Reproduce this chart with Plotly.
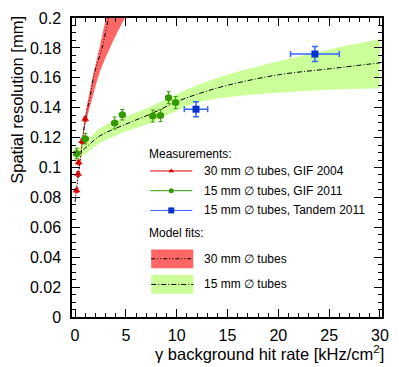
import plotly.graph_objects as go

# ---------------- data ----------------
# Measurements
red_x = [0.15, 0.3, 0.35, 0.7, 1.0]
red_y = [0.0846, 0.0956, 0.1033, 0.1176, 0.1324]
red_ex = [0.05, 0.05, 0.05, 0.05, 0.05]
red_ey = [0.0015, 0.0015, 0.0015, 0.0015, 0.0015]

green_x = [0.15, 1.0, 3.9, 4.65, 7.65, 8.4, 9.2, 9.9]
green_y = [0.1094, 0.1193, 0.1298, 0.1353, 0.1344, 0.1347, 0.1467, 0.1434]
green_ex = [0.3, 0.3, 0.3, 0.3, 0.3, 0.3, 0.3, 0.3]
green_ey = [0.0035, 0.0035, 0.004, 0.0035, 0.004, 0.004, 0.004, 0.004]

blue_x = [11.9, 23.6]
blue_y = [0.139, 0.1759]
blue_ex = [1.15, 2.4]
blue_ey = [0.005, 0.005]

# Model fit, 30 mm tubes
fit30_x = [0.0, 0.15, 0.35, 0.7, 1.0, 1.5, 1.9, 2.66, 3.3, 3.7]
fit30_y = [0.077, 0.085, 0.096, 0.115, 0.132, 0.148, 0.163, 0.180, 0.200, 0.210]
band30_up_x = [0.0, 0.5, 1.0, 1.45, 1.85, 2.45, 3.05, 3.5]
band30_up_y = [0.079, 0.108, 0.135, 0.151, 0.164, 0.1815, 0.200, 0.212]
band30_lo_x = [0.0, 0.5, 1.0, 1.77, 2.4, 3.5, 4.9, 5.5]
band30_lo_y = [0.076, 0.104, 0.128, 0.148, 0.163, 0.181, 0.200, 0.207]

# Model fit, 15 mm tubes
fit15_x = [0, 1, 2.4, 5, 7.5, 10, 12, 15, 20, 25, 30]
fit15_y = [0.108, 0.113, 0.121, 0.129, 0.136, 0.144, 0.149, 0.155, 0.162, 0.166, 0.170]
band15_x = [0, 1, 2.4, 5, 7.5, 10, 12, 15, 20, 25, 30]
band15_lo = [0.104, 0.109, 0.116, 0.124, 0.130, 0.138, 0.1435, 0.147, 0.150, 0.152, 0.153]
band15_up = [0.112, 0.117, 0.126, 0.134, 0.141, 0.149, 0.155, 0.162, 0.171, 0.179, 0.186]

x_range = [-0.3, 30.2]
y_range = [0, 0.2]

# ---------------- styling ----------------
FONT = "Liberation Sans, Arial, Helvetica, sans-serif"
RED_FILL = "#ff6666"
GREEN_FILL = "#ccff99"
RED = "#dd0000"
GREEN = "#339900"
BLUE = "#0033cc"
BLUE_ERR = "#3366ff"
DASH_DOTDOT = "4px,2px,1px,2px,1px,2px"
DASH_DOT = "5px,2px,1px,2px"

fig = go.Figure()

# bands
fig.add_trace(go.Scatter(x=band15_x, y=band15_lo, mode="lines", line=dict(width=0, shape="spline"),
                         hoverinfo="skip", showlegend=False))
fig.add_trace(go.Scatter(x=band15_x, y=band15_up, mode="lines", line=dict(width=0, shape="spline"),
                         fill="tonexty", fillcolor=GREEN_FILL, hoverinfo="skip", showlegend=False))
fig.add_trace(go.Scatter(x=band30_lo_x, y=band30_lo_y, mode="lines", line=dict(width=0, shape="spline"),
                         hoverinfo="skip", showlegend=False))
fig.add_trace(go.Scatter(x=band30_up_x, y=band30_up_y, mode="lines", line=dict(width=0, shape="spline"),
                         fill="tonexty", fillcolor=RED_FILL, hoverinfo="skip", showlegend=False))

# fit lines
fig.add_trace(go.Scatter(x=fit30_x, y=fit30_y, mode="lines",
                         line=dict(color="black", width=1, dash=DASH_DOTDOT, shape="spline"),
                         showlegend=False))
fig.add_trace(go.Scatter(x=fit15_x, y=fit15_y, mode="lines",
                         line=dict(color="black", width=1, dash=DASH_DOT, shape="spline"),
                         showlegend=False))

# measurements
fig.add_trace(go.Scatter(x=red_x, y=red_y, mode="markers",
                         marker=dict(symbol="triangle-up", size=7, color=RED),
                         error_x=dict(type="data", array=red_ex, color=RED, thickness=1, width=1),
                         error_y=dict(type="data", array=red_ey, color=RED, thickness=1, width=2),
                         showlegend=False))
fig.add_trace(go.Scatter(x=green_x, y=green_y, mode="markers",
                         marker=dict(symbol="circle", size=7, color=GREEN),
                         error_x=dict(type="data", array=green_ex, color=GREEN, thickness=1, width=2),
                         error_y=dict(type="data", array=green_ey, color=GREEN, thickness=1, width=2),
                         showlegend=False))
fig.add_trace(go.Scatter(x=blue_x, y=blue_y, mode="markers",
                         marker=dict(symbol="square", size=7, color=BLUE),
                         error_x=dict(type="data", array=blue_ex, color=BLUE_ERR, thickness=1.5, width=3),
                         error_y=dict(type="data", array=blue_ey, color=BLUE_ERR, thickness=1.5, width=3),
                         showlegend=False))

# ---------------- legend (drawn on a pixel overlay axis) ----------------
L, R, T, B = 72, 389, 14, 317
W, H = 399, 367
leg_meas_y = [169, 189, 209]
leg_meas_sym = ["triangle-up", "circle", "square"]
leg_meas_col = [RED, GREEN, BLUE]
leg_meas_linecol = [RED, GREEN, BLUE_ERR]
leg_meas_txt = ["30 mm \u2205 tubes, GIF 2004", "15 mm \u2205 tubes, GIF 2011",
                "15 mm \u2205 tubes, Tandem 2011"]
leg_fit_y = [258, 284]
leg_fit_col = [RED_FILL, GREEN_FILL]
leg_fit_dash = [DASH_DOTDOT, DASH_DOT]
leg_fit_txt = ["30 mm \u2205 tubes", "15 mm \u2205 tubes"]

shapes = []
annotations = []
for yy, sym, col, lcol, txt in zip(leg_meas_y, leg_meas_sym, leg_meas_col, leg_meas_linecol, leg_meas_txt):
    fig.add_trace(go.Scatter(x=[152, 195], y=[yy, yy], xaxis="x2", yaxis="y2", mode="lines",
                             line=dict(color=lcol, width=1), showlegend=False, hoverinfo="skip"))
    fig.add_trace(go.Scatter(x=[173.5], y=[yy], xaxis="x2", yaxis="y2", mode="markers",
                             marker=dict(symbol=sym, size=5 if sym != "square" else 6, color=col),
                             showlegend=False, hoverinfo="skip"))
    annotations.append(dict(x=205, y=yy, xref="x2", yref="y2", text=txt, showarrow=False,
                            xanchor="left", yanchor="middle", font=dict(size=12, color="black")))
for yy, fc, dsh, txt in zip(leg_fit_y, leg_fit_col, leg_fit_dash, leg_fit_txt):
    shapes.append(dict(type="rect", xref="x2", yref="y2", x0=153, x1=196, y0=yy - 9.5, y1=yy + 9.5,
                       fillcolor=fc, line=dict(width=0), layer="below"))
    fig.add_trace(go.Scatter(x=[153, 196], y=[yy, yy], xaxis="x2", yaxis="y2", mode="lines",
                             line=dict(color="black", width=1, dash=dsh), showlegend=False,
                             hoverinfo="skip"))
    annotations.append(dict(x=205, y=yy, xref="x2", yref="y2", text=txt, showarrow=False,
                            xanchor="left", yanchor="middle", font=dict(size=12, color="black")))
annotations.append(dict(x=149, y=152, xref="x2", yref="y2", text="Measurements:", showarrow=False,
                        xanchor="left", yanchor="middle", font=dict(size=12, color="black")))
annotations.append(dict(x=149, y=232, xref="x2", yref="y2", text="Model fits:", showarrow=False,
                        xanchor="left", yanchor="middle", font=dict(size=12, color="black")))

# axis titles (paper coordinates)
annotations.append(dict(x=(393 - L) / (R - L), y=(B - 353) / (B - T), xref="paper", yref="paper",
                        text="\u03b3 background hit rate [kHz/cm<sup>2</sup>]", showarrow=False,
                        xanchor="right", yanchor="middle", font=dict(size=16.5, color="black")))
annotations.append(dict(x=(15.5 - L) / (R - L), y=(B - 10) / (B - T), xref="paper", yref="paper",
                        text="Spatial resolution [mm]",
                        textangle=-90, showarrow=False, xanchor="center", yanchor="top",
                        font=dict(size=16.5, color="black")))

axis_common = dict(showgrid=False, zeroline=False, showline=True, linecolor="black", linewidth=1.5,
                   mirror="allticks", ticks="inside", tickcolor="black", tickwidth=1, ticklen=8,
                   tickfont=dict(size=16, color="black", family=FONT))

fig.update_layout(
    width=W, height=H,
    margin=dict(l=L, r=W - R, t=T, b=H - B),
    paper_bgcolor="white", plot_bgcolor="white",
    font=dict(family=FONT, color="black"),
    showlegend=False,
    xaxis=dict(range=x_range, tick0=0, dtick=5, ticklabelstandoff=3,
               minor=dict(dtick=1, ticks="inside", ticklen=4, tickcolor="black"),
               **axis_common),
    yaxis=dict(range=y_range, tick0=0, dtick=0.02, ticklabelstandoff=6,
               minor=dict(dtick=0.005, ticks="inside", ticklen=4, tickcolor="black"),
               **axis_common),
    xaxis2=dict(range=[L, R], overlaying="x", anchor="y2", visible=False),
    yaxis2=dict(range=[B, T], overlaying="y", anchor="x2", visible=False),
    shapes=shapes,
    annotations=annotations,
)

fig.write_html("out.html")
